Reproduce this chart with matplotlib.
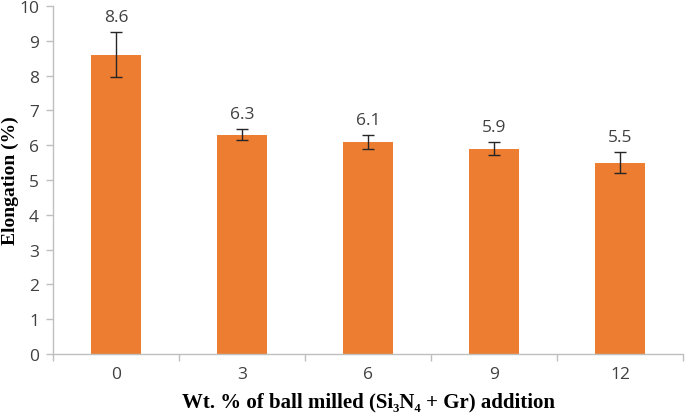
import matplotlib
matplotlib.use('Agg')
import matplotlib.pyplot as plt
import numpy as np

# data
categories = ['0', '3', '6', '9', '12']
elongation = [8.6, 6.3, 6.1, 5.9, 5.5]
errors = [0.65, 0.16, 0.2, 0.18, 0.3]

bar_color = '#ED7D31'
text_color = '#404040'
axis_color = '#BFBFBF'
num_font = ['Open Sans', 'DejaVu Sans']
label_font = ['Liberation Serif', 'DejaVu Serif']

fig = plt.figure(figsize=(6.85, 4.14), dpi=100)
ax = fig.add_axes([53/685, 59/414, 630/685, 348/414])

x = np.arange(len(categories))
ax.bar(x, elongation, width=0.4, color=bar_color, zorder=2)
ax.errorbar(x, elongation, yerr=errors, fmt='none', ecolor='#262626',
            elinewidth=1, capsize=4, capthick=1, zorder=3)

# value labels above the error bars
for xi, v, e in zip(x, elongation, errors):
    ax.text(xi, v + e + 0.2, f'{v:.1f}', ha='center', va='bottom',
            fontsize=12.5, color=text_color, family=num_font)

ax.set_xlim(-0.5, len(categories) - 0.5)
ax.set_ylim(0, 10)
ax.set_yticks(np.arange(0, 11, 1))
ax.set_xticks(x)
ax.set_xticklabels(categories)
# tick marks at category boundaries on the x axis
ax.set_xticks(np.arange(-0.5, len(categories), 1), minor=True)
ax.tick_params(axis='x', which='major', length=0, pad=9)
ax.tick_params(axis='x', which='minor', length=5, color=axis_color, width=1)
ax.tick_params(axis='y', length=5, color=axis_color, width=1, pad=5)

for lab in ax.get_xticklabels() + ax.get_yticklabels():
    lab.set_family(num_font)
    lab.set_fontsize(12.5)
    lab.set_color(text_color)

for s in ['top', 'right']:
    ax.spines[s].set_visible(False)
for s in ['left', 'bottom']:
    ax.spines[s].set_color(axis_color)
    ax.spines[s].set_linewidth(1)

ax.set_ylabel('Elongation (%)', fontsize=14, fontweight='bold',
              family=label_font)
ax.yaxis.set_label_coords(-34/630, 0.5)
ax.set_xlabel('Wt. % of ball milled (Si\u2083N\u2084 + Gr) addition', fontsize=15,
              fontweight='bold', family=label_font)
ax.xaxis.set_label_coords(0.5, -37/348)

fig.savefig('out.png', dpi=100)
